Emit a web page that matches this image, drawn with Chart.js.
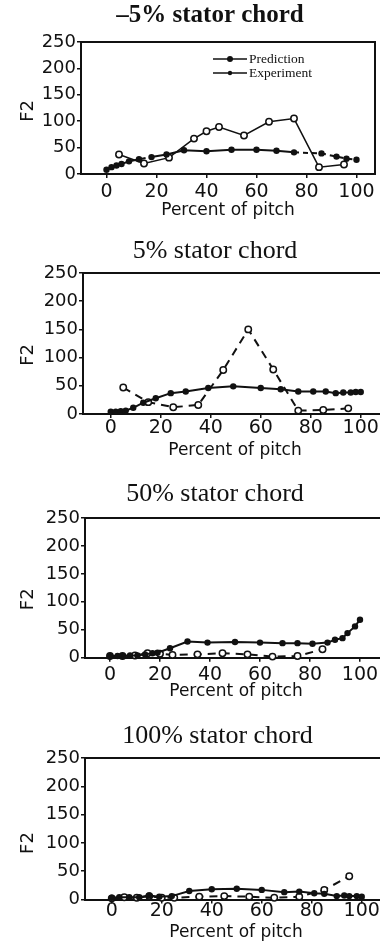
<!DOCTYPE html>
<html>
<head>
<meta charset="utf-8">
<script src="https://cdn.jsdelivr.net/npm/chart.js@4.4.1/dist/chart.umd.min.js"></script>
<style>
  html, body { margin: 0; padding: 0; background: #fff; width: 380px; height: 943px; overflow: hidden; }
  canvas { position: absolute; left: 0; }
</style>
</head>
<body>
<canvas id="c1"></canvas>
<canvas id="c2"></canvas>
<canvas id="c3"></canvas>
<canvas id="c4"></canvas>
<script>
// data (x = percent of pitch, y = F2)
const titles = ['\u20135% stator chord', '5% stator chord', '50% stator chord', '100% stator chord'];
const seriesNames = ['Prediction', 'Experiment'];
const xTicks = [0, 20, 40, 60, 80, 100];
const yTicks = [0, 50, 100, 150, 200, 250];

const pred1X = [0, 2, 4, 6, 9, 13, 18, 24, 31, 40, 50, 60, 68, 75, 86, 92, 96, 100];
const pred1Y = [8, 13, 16, 19, 24, 28, 32, 37, 45, 43, 46, 46, 44, 41, 39, 33, 29, 27];
const exp1X = [5, 15, 25, 35, 40, 45, 55, 65, 75, 85, 95];
const exp1Y = [37, 20, 31, 67, 81, 89, 73, 99, 105, 13, 18];

const pred2X = [0, 2, 4, 6, 9, 13, 18, 24, 30, 39, 49, 60, 68, 75, 81, 86, 90, 93, 96, 98, 100];
const pred2Y = [4, 4, 5, 6, 11, 20, 28, 37, 40, 46, 49, 46, 44, 40, 40, 40, 37, 38, 38, 39, 39];
const exp2X = [5, 15, 25, 35, 45, 55, 65, 75, 85, 95];
const exp2Y = [47, 21, 12, 16, 78, 150, 79, 6, 7, 10];

const pred3X = [0, 3, 5, 8, 11, 14, 17, 19, 24, 31, 39, 50, 60, 69, 75, 81, 87, 90, 93, 95, 98, 100];
const pred3Y = [3, 3, 3, 4, 4, 6, 8, 9, 17, 29, 27, 28, 27, 26, 26, 25, 27, 32, 35, 44, 56, 68];
const exp3X = [0, 5, 10, 15, 20, 25, 35, 45, 55, 65, 75, 85];
const exp3Y = [3, 3, 4, 8, 7, 5, 6, 8, 6, 2, 3, 15];

const pred4X = [0, 3, 7, 11, 15, 19, 24, 31, 40, 50, 60, 69, 75, 81, 85, 90, 93, 95, 98, 100];
const pred4Y = [3, 4, 4, 4, 7, 5, 6, 15, 18, 19, 17, 13, 14, 11, 10, 6, 7, 6, 6, 5];
const exp4X = [0, 5, 10, 15, 20, 25, 35, 45, 55, 65, 75, 85, 95];
const exp4Y = [2, 4, 3, 6, 3, 3, 5, 6, 5, 3, 5, 17, 41];

const INK = '#111';

const panels = [
  { id: 'c1', top: 0,   w: 420, h: 221, left: 81, right: 375, tPad: { top: 1, bottom: 11 },    tFont: { family: 'Liberation Serif', size: 25, weight: 'bold' },
    xmin: -10.2, xH: 47, tickPad: 2.7, yTitle: 'F2 ', pred: [pred1X, pred1Y], exp: [exp1X, exp1Y], legend: true },
  { id: 'c2', top: 221, w: 430, h: 240, left: 83, right: 387, tPad: { top: 14.4, bottom: 6.4 }, tFont: { family: 'Liberation Serif', size: 26, weight: 'normal' },
    xmin: -11.1, xH: 47, tickPad: -1.8, yTitle: 'F2    ', pred: [pred2X, pred2Y], exp: [exp2X, exp2Y] },
  { id: 'c3', top: 461, w: 430, h: 241, left: 85, right: 387, tPad: { top: 17.4, bottom: 8.4 }, tFont: { family: 'Liberation Serif', size: 26, weight: 'normal' },
    xmin: -10, xH: 44.3, tickPad: 1.5, yTitle: 'F2    ', pred: [pred3X, pred3Y], exp: [exp3X, exp3Y] },
  { id: 'c4', top: 702, w: 435, h: 241, left: 85, right: 387, tPad: { top: 18.4, bottom: 6.4 }, tFont: { family: 'Liberation Serif', size: 26, weight: 'normal' },
    xmin: -10.7, xH: 43.5, tickPad: -4.3, yTitle: 'F2     ', pred: [pred4X, pred4Y], exp: [exp4X, exp4Y] }
];

function toPoints(xs, ys) {
  return xs.map((x, i) => ({ x: x, y: ys[i] }));
}

// small legend inside the first panel
const insetLegend = {
  id: 'insetLegend',
  afterDatasetsDraw(chart, args, opts) {
    if (!opts.show) return;
    const ctx = chart.ctx;
    ctx.save();
    ctx.font = '13.5px "Liberation Serif"';
    ctx.textBaseline = 'middle';
    ctx.fillStyle = INK;
    ctx.strokeStyle = INK;
    chart.data.datasets.forEach((ds, i) => {
      const y = 59 + i * 14;
      ctx.lineWidth = 1.5;
      ctx.beginPath();
      ctx.moveTo(213, y);
      ctx.lineTo(247, y);
      ctx.stroke();
      ctx.beginPath();
      ctx.arc(230, y, i === 0 ? 3 : 2.2, 0, Math.PI * 2);
      ctx.fill();
      ctx.fillText(ds.label, 249, y);
    });
    ctx.restore();
  }
};

panels.forEach((p, n) => {
  const cv = document.getElementById(p.id);
  cv.width = p.w;
  cv.height = p.h;
  cv.style.top = p.top + 'px';
  cv.style.width = p.w + 'px';
  cv.style.height = p.h + 'px';

  const pxPerUnit = 2.5;
  const xmax = p.xmin + (p.right - p.left) / pxPerUnit;
  const first = n === 0;

  new Chart(cv, {
    type: 'line',
    data: {
      datasets: [
        {
          label: seriesNames[0],
          data: toPoints(p.pred[0], p.pred[1]),
          borderColor: INK,
          backgroundColor: INK,
          borderWidth: 2,
          pointRadius: 3.2,
          pointBackgroundColor: INK,
          pointBorderWidth: 0,
          tension: 0,
          clip: false,
          segment: first ? {
            borderDash: c => (c.p1.parsed.x <= 18 || c.p0.parsed.x >= 75) ? [5, 4] : undefined
          } : {}
        },
        {
          label: seriesNames[1],
          data: toPoints(p.exp[0], p.exp[1]),
          borderColor: INK,
          backgroundColor: '#fff',
          borderWidth: first ? 1.5 : 2,
          borderDash: first ? [] : [8, 6],
          pointRadius: 3.2,
          pointBackgroundColor: '#fff',
          pointBorderColor: INK,
          pointBorderWidth: 1.5,
          tension: 0,
          clip: false
        }
      ]
    },
    options: {
      responsive: false,
      animation: false,
      events: [],
      layout: { padding: 0 },
      plugins: {
        legend: { display: false },
        tooltip: { enabled: false },
        title: {
          display: true,
          text: titles[n],
          color: INK,
          font: p.tFont,
          padding: p.tPad
        },
        insetLegend: { show: !!p.legend }
      },
      scales: {
        x: {
          type: 'linear',
          position: 'bottom',
          min: p.xmin,
          max: xmax,
          afterBuildTicks: s => { s.ticks = xTicks.map(v => ({ value: v })); },
          afterFit: s => { s.height = p.xH; },
          grid: { display: true, drawOnChartArea: false, drawTicks: true, tickLength: 4, color: INK, lineWidth: 1.5 },
          border: { display: true, color: INK, width: 2 },
          ticks: { color: INK, padding: p.tickPad, maxRotation: 0, font: { family: 'DejaVu Sans', size: 19 } },
          title: { display: true, text: 'Percent of pitch', color: INK, padding: { top: 0, bottom: 0 }, font: { family: 'DejaVu Sans', size: 17 } }
        },
        xTop: {
          type: 'linear',
          position: 'top',
          min: p.xmin,
          max: xmax,
          afterFit: s => { s.height = 0; },
          grid: { display: false },
          ticks: { display: false },
          border: { display: true, color: INK, width: 2 }
        },
        y: {
          type: 'linear',
          position: 'left',
          min: 0,
          max: 250,
          afterBuildTicks: s => { s.ticks = yTicks.map(v => ({ value: v })); },
          afterFit: s => { s.width = p.left; },
          grid: { display: true, drawOnChartArea: false, drawTicks: true, tickLength: 4, color: INK, lineWidth: 1.5 },
          border: { display: true, color: INK, width: 2 },
          ticks: { color: INK, padding: 1, font: { family: 'DejaVu Sans', size: 18 } },
          title: { display: true, text: p.yTitle, color: INK, padding: { top: 18, bottom: 0 }, font: { family: 'DejaVu Sans', size: 18 } }
        },
        yRight: {
          type: 'linear',
          position: 'right',
          min: 0,
          max: 250,
          afterFit: s => { s.width = p.w - p.right; },
          grid: { display: false },
          ticks: { display: false },
          border: { display: true, color: INK, width: 2 }
        }
      }
    },
    plugins: [insetLegend]
  });
});
</script>
</body>
</html>
